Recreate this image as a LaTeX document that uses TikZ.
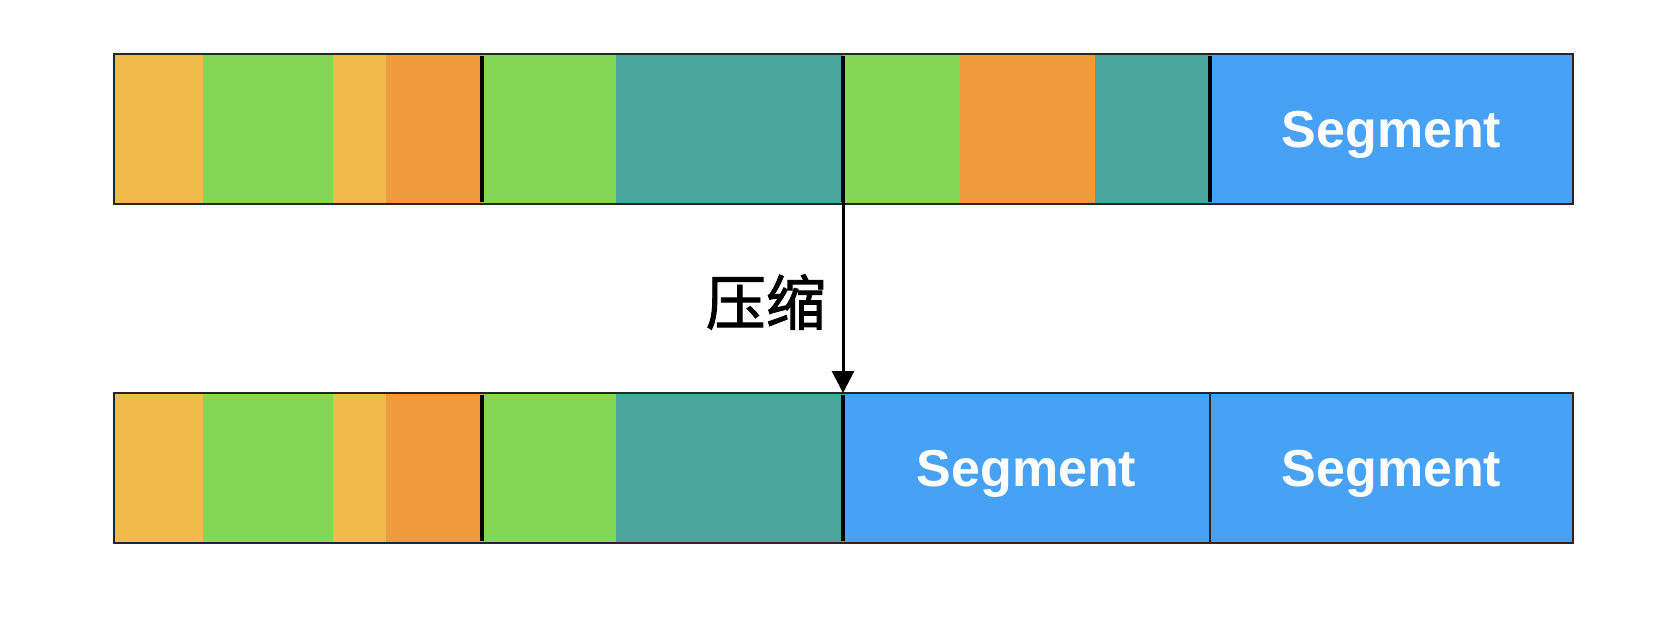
\documentclass[tikz,border=0pt]{standalone}
\usepackage{fontspec}
\usepackage{xcolor}
\usepackage{tikz}
\usetikzlibrary{arrows.meta}
\setmainfont{Liberation Sans}
\newfontfamily\cjk[FakeBold=1.5]{Noto Sans CJK SC}

\definecolor{cyellow}{HTML}{EFBB4B}
\definecolor{cgreen}{HTML}{84D655}
\definecolor{corange}{HTML}{F1993D}
\definecolor{cteal}{HTML}{4AA59C}
\definecolor{cblue}{HTML}{47A1F5}

\begin{document}
\begin{tikzpicture}[x=1pt, y=-1pt,
  cell/.style={anchor=north west, inner sep=0pt, outer sep=0pt, minimum height=150pt},
  segtext/.style={text=white, font=\fontsize{52}{52}\selectfont\bfseries, text height=37pt, text depth=0pt},
  edge/.style={draw=black!85, line width=1.5pt},
  split/.style={draw=black, line width=4.5pt},
  thin split/.style={draw=black!85, line width=1.5pt}]
\useasboundingbox (0,0) rectangle (1666,640);

% top row
\node[cell, fill=cyellow, minimum width=89pt] (t1) at (114,54) {};
\node[cell, fill=cgreen, minimum width=130pt] (t2) at (203,54) {};
\node[cell, fill=cyellow, minimum width=53pt] (t3) at (333,54) {};
\node[cell, fill=corange, minimum width=96pt] (t4) at (386,54) {};
\node[cell, fill=cgreen, minimum width=134pt] (t5) at (482,54) {};
\node[cell, fill=cteal, minimum width=227pt] (t6) at (616,54) {};
\node[cell, fill=cgreen, minimum width=117pt] (t7) at (843,54) {};
\node[cell, fill=corange, minimum width=135pt] (t8) at (960,54) {};
\node[cell, fill=cteal, minimum width=115pt] (t9) at (1095,54) {};
\node[cell, fill=cblue, minimum width=363pt, segtext] (t10) at (1210,54) {Segment};

\draw[edge] (t1.north west) rectangle (t10.south east);
\draw[split] ([yshift=-2pt]t4.north east) -- ([yshift=2pt]t4.south east);
\draw[split] ([yshift=-2pt]t6.north east) -- ([yshift=2pt]t6.south east);
\draw[split] ([yshift=-2pt]t9.north east) -- ([yshift=2pt]t9.south east);

% bottom row
\node[cell, fill=cyellow, minimum width=89pt] (b1) at (114,393) {};
\node[cell, fill=cgreen, minimum width=130pt] (b2) at (203,393) {};
\node[cell, fill=cyellow, minimum width=53pt] (b3) at (333,393) {};
\node[cell, fill=corange, minimum width=96pt] (b4) at (386,393) {};
\node[cell, fill=cgreen, minimum width=134pt] (b5) at (482,393) {};
\node[cell, fill=cteal, minimum width=227pt] (b6) at (616,393) {};
\node[cell, fill=cblue, minimum width=367pt, segtext] (b7) at (843,393) {Segment};
\node[cell, fill=cblue, minimum width=363pt, segtext] (b8) at (1210,393) {Segment};

\draw[edge] (b1.north west) rectangle (b8.south east);
\draw[split] ([yshift=-2pt]b4.north east) -- ([yshift=2pt]b4.south east);
\draw[split] ([yshift=-2pt]b6.north east) -- ([yshift=2pt]b6.south east);
\draw[thin split] (b7.north east) -- (b7.south east);

% arrow
\draw[line width=3pt, -{Triangle[width=22pt, length=22pt]}] ([yshift=4pt]t6.south east) -- (b6.north east);
\node[anchor=east, inner sep=0pt, font=\cjk\fontsize{60}{60}\selectfont] (label) at (826,302) {压缩};
\end{tikzpicture}
\end{document}
